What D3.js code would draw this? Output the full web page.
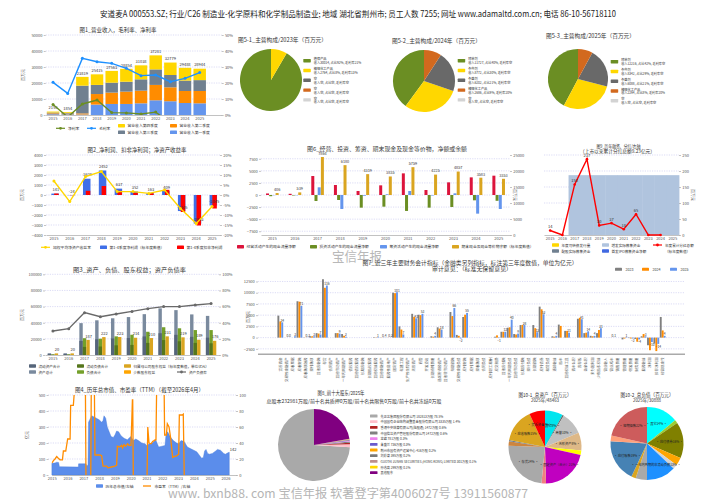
<!DOCTYPE html>
<html><head><meta charset="utf-8">
<script src="https://cdn.jsdelivr.net/npm/d3@7/dist/d3.min.js"></script>
<style>html,body{margin:0;padding:0;background:#fff;overflow:hidden}svg{display:block}</style>
</head><body><svg id="c" width="714" height="500"></svg>
<script>
// ================= DATA =================
const years = ["2015","2016","2017","2018","2019","2020","2021","2022","2023","2024","2025"];
// Chart 1
const revTotal = [2150, 1854, 23819, 25415, 27563, 28854, 31038, 37281, 32779, 29488, 28944];
const revQ1 = [500, 450, 300, 6500, 6900, 6900, 7300, 9200, 8600, 7500, 7300];
const revQ2 = [550, 450, 700, 6600, 7100, 7700, 7900, 9600, 8700, 7500, 7700];
const revQ3 = [500, 450, 17333, 5700, 6200, 6200, 7100, 9700, 7700, 6500, 6800];
const revQ4 = [600, 504, 5486, 6615, 7363, 8054, 8738, 8781, 7779, 7988, 7144];
const grossMargin = [20.4, 13.5, 35.4, 33.3, 32.3, 29.2, 24.6, 25.0, 20.8, 22.9, 26.5];
const netMargin = [6.6, -1.3, 6.9, 9.4, 1.5, 1.3, 0.6, 1.8, -4.9, -9.7, -3.6];
// Chart 2
const netProfit = [141, -24, 1629, 2452, 637, 352, 163, 409, -1605, -2863, -1045];
const dedNetProfit = [150, -20, 420, 900, 420, 220, 180, 520, -1700, -3050, -1350];
const roe = [7.0, -3.3, 9.2, 11.7, 1.7, 1.7, 0.8, 2.5, -6.7, -14.2, -5.8];
// Chart 3
const totalAssets = [2100, 2100, 39500, 43000, 45500, 47000, 50600, 57800, 55600, 50300, 48463];
const currentAssets = [1400, 1400, 17500, 19500, 20500, 21000, 23000, 27000, 25000, 22500, 21500];
const totalLiab = [700, 700, 20800, 20200, 23100, 25100, 28800, 34400, 33100, 30900, 30888];
const currentLiab = [500, 500, 10000, 10500, 12000, 12500, 15000, 18500, 17000, 15000, 14500];
const parentEquity = [2000, 2000, 18700, 22200, 22300, 21400, 21000, 23100, 21900, 18900, 17600];
const debtRatio = [29.8, 32.6, 52.5, 47.5, 50.8, 54.0, 57.4, 60.0, 60.0, 62.0, 63.7];
// Chart 6
const opCF = [320, 250, 3930, 2070, 830, 2000, 4480, 1035, 2620, 3650, 4000];
const invCF = [-250, -100, -1240, -1035, -2620, -2415, -3300, -2620, -2480, -1100, -1200];
const finCF = [-50, -60, 1590, -2900, -150, 150, 830, -100, 345, -3860, -2900];
const endCash = [406, 539, 7864, 6180, 4319, 3835, 5759, 4225, 4857, 3583, 3353];
// Chart 9
const seoFunds = [null, null, 187, 187, 187, 187, 187, 187, 187, 187, 187];
const dividends = [14, 0, 158, 237, 30, 37, 18, 65, 0, 0, null];
// Pies 5
const p51Names = ["植保产品","精细化工产品","空","空","空"];
const p51Rev = [30014, 2764, null, null, null];
const p51Share = [92, 8, null, null, null];
const p51GM = [21, 13, null, null, null];
const p52Names = ["除草剂","杀虫剂","杀菌剂","精细化工产品","空"];
const p52Rev = [11727, 8772, 6202, 2686, null];
const p52Share = [40, 30, 21, 9, null];
const p52GM = [null, null, null, 20, null];
const p53Names = ["除草剂","杀虫剂","杀菌剂","精细化工产品","空"];
const p53Rev = [12216, 8342, 6088, 2294, null];
const p53Share = [42, 29, 21, 8, null];
const p53GM = [null, null, null, 20, null];
const pieColors5 = ["#6B8E23", "#FFD700", "#696969", "#D2691E", "#D3D3D3"];
// Chart 7
const finCats = ["货币资金","交易性金融资产","应收票据","应收账款","应收款项融资","预付款项","其他应收款","存货","合同资产","其他流动资产","一年内到期资产","债权投资","其他债权投资","长期应收款","长期股权投资","其他权益投资","其他金融资产","投资性房地产","固定资产","在建工程","生产性生物资产","无形资产","商誉","开发支出","长期待摊费用","递延所得税资产","其他非流动资产","短期借款","交易性金融负债","应付账款","应付票据","预收款项","合同负债","应付职工薪酬","应交税费","其他应付款","一年内到期负债","其他流动负债","长期应付款","预计负债","长期借款","应付债券","租赁负债","递延收益","股本","其他权益工具","资本公积","库存股","盈余公积","未分配利润","少数股东权益","营业收入","营业成本","销售费用","管理费用","研发费用","财务费用","投资收益","净利润","扣非净利润","经营现金流"];
const fin2023 = [4900,0,0,8100,50,300,1000,13000,null,1000,800,null,null,null,null,100,40,20,10000,2500,null,5300,5100,null,300,2300,null,5700,600,4600,null,null,null,null,200,1300,2200,800,2800,null,2800,6900,null,300,2900,1500,null,4200,1000,400,1000,null,10,null,-400,-100,-300,300,-1700,-1300,4600];
const fin2024 = [3600,0,0,8000,30,300,900,11100,null,1000,400,null,null,null,null,50,40,20,9900,1800,null,4600,5000,null,200,2000,null,4800,400,5100,null,null,null,null,500,1300,2300,700,2800,null,2100,6300,null,200,2600,1500,null,4400,1100,300,1700,null,10,null,-200,-200,-900,800,-2800,-3000,1600];
const fin2025 = [3400,0,300,7100,30,300,700,11600,null,900,200,null,null,null,null,100,40,20,10100,700,null,4300,5300,null,400,1800,null,6600,-200,5500,null,null,null,null,-100,1300,4000,900,2800,null,1200,5200,null,400,null,1100,null,4100,1400,400,2100,null,10,null,100,-200,-400,300,-1000,-1400,400];
// Chart 4
const mcapDates = ["2015-01-05","2015-03-18","2015-04-27","2015-06-10","2015-06-28","2016-09-08","2016-09-14","2017-03-05","2017-03-12","2017-04-20","2017-05-01","2017-07-13","2017-09-28","2018-01-02","2018-03-01","2018-04-02","2018-04-24","2018-06-03","2018-07-09","2018-10-05","2018-11-25","2019-01-02","2019-02-10","2019-03-29","2019-05-23","2019-07-31","2019-10-16","2020-01-02","2020-03-04","2020-04-28","2020-06-29","2020-09-13","2020-11-28","2021-01-05","2021-03-08","2021-05-16","2021-08-01","2021-10-09","2021-12-25","2022-03-04","2022-03-30","2022-05-05","2022-06-29","2022-09-13","2022-11-28","2023-01-15","2023-03-11","2023-05-19","2023-08-04","2023-10-12","2023-12-28","2024-03-07","2024-04-20","2024-06-28","2024-08-07","2024-09-05","2024-10-08","2024-11-14","2024-12-25","2025-03-04","2025-05-19","2025-06-28","2025-09-06","2025-11-22","2025-12-28","2026-03-08","2026-03-30"];
const mcapVals = [73,75,80,78,52,50,70,70,60,60,330,370,360,345,330,340,370,355,300,240,235,250,275,270,245,230,220,240,215,225,215,200,195,185,195,200,220,175,180,185,260,270,240,215,200,195,215,210,175,165,155,145,130,105,110,150,160,135,130,135,150,160,155,135,130,140,142];
const peDates = ["2015-01-05","2015-02-10","2015-03-18","2015-04-27","2015-06-03","2015-07-13","2015-09-06","2015-09-28","2015-11-22","2016-01-05","2016-03-01","2016-03-14","2016-05-15","2016-07-01","2017-02-17","2017-03-04","2017-06-21","2017-07-05","2017-09-12","2017-09-27","2018-01-23","2018-03-01","2018-04-02","2018-06-25","2018-07-27","2018-10-12","2018-12-28","2019-02-10","2019-02-28","2019-04-20","2019-06-06","2019-06-28","2019-07-31","2019-09-06","2019-10-23","2019-11-21","2020-01-08","2020-02-10","2020-02-17","2020-03-03","2021-01-12","2021-01-30","2021-02-28","2021-04-16","2021-05-23","2021-06-25","2021-07-17","2021-08-08","2021-08-26","2022-02-10","2022-02-24","2022-04-05","2022-04-27","2022-06-06","2022-07-13","2022-08-29","2022-09-27","2022-11-28","2023-01-15","2023-01-30","2023-04-09","2023-05-01","2023-05-26","2026-04-15"];
const peVals = [15,18,20,23,21,19,19,30,30,45,45,87,87,120,120,-10,-10,120,120,25,25,24,11,11,9,10,11,12,36,35,37,34,38,36,39,37,37,94,94,-10,-10,60,40,39,42,43,44,44,120,120,50,50,64,60,46,22,23,24,26,75,75,76,-10,-10];
// Chart 8
const holderNames = ["先正达集团股份有限公司","中国国有企业结构调整基金股份有限公司","香港中央结算有限公司(陆股通)","中国信达资产管理股份有限公司","龙峰","朱盛兰","荆州市国有资产运营中心","刘彩菊","GUOTAI JUNAN SECURITIES (HONG KONG) LIMITED","孙志高","其他股东"];
const holderShares = [182813, 3335, 1472, 1472, 781, 736, 416, 395, 301, 299, 55000];
const holderPct = [78.5, 1.4, 0.6, 0.6, 0.3, 0.3, 0.2, 0.2, 0.1, 0.1, null];
const holderColors = ["#A9A9A9","#FFC0CB","#B22222","#808080","#EE82EE","#6A5ACD","#FFA500","#7a7a7a","#BC8F8F","#FFD700","#800080"];
// Chart 10
const assetNames = ["其它","长期股权投资","商誉","无形资产","在建工程","固定资产（合计）","其他应收款","存货","预付款项","应收票据","应收账款","货币资金"];
const assetVals = [8, 0.6, 10, 8, 2, 21, 2, 24, 2, 0.5, 15, 7];
const assetColors = ["#00E5EE","#696969","#C0C0C0","#DEB887","#FFFF00","#C000C0","#F08080","#A9A9A9","#CD853F","#708090","#DAA520","#FF0000"];
const liabNames = ["其它","预收款项","应付债券","租赁负债","长期应付款","一年内到期的非流动负债","其他应付款","应交税费","应付账款","应付职工薪酬","短期借款"];
const liabVals = [14, 1.5, 16, 3.5, 2, 13, 5, 2, 19, 2.5, 21.5];
const liabColors = ["#00FFFF","#9ACD32","#808000","#FFA500","#D3D3D3","#1E90FF","#A9A9A9","#DAA520","#4682B4","#FFA07A","#CD5C5C"];

// ================= HELPERS =================
const svg = d3.select("#c");
const FONT = '"Noto Sans CJK SC","Noto Sans",sans-serif';
svg.attr("font-family", FONT);
const GRID = "#c4c4ee";
function T(g, x, y, s, o) {
  o = o || {};
  const t = g.append("text").attr("x", x).attr("y", y).text(s)
    .attr("font-size", o.fs || 4).attr("fill", o.fill || "#333")
    .attr("text-anchor", o.anchor || "start").attr("dominant-baseline", "central");
  if (o.len) t.attr("textLength", o.len).attr("lengthAdjust", "spacingAndGlyphs");
  if (o.rot) t.attr("transform", `rotate(${o.rot},${x},${y})`);
  return t;
}
function grid(g, y, ticks, x0, x1) {
  g.append("g").selectAll("line").data(ticks).join("line")
    .attr("x1", x0).attr("x2", x1).attr("y1", d => y(d)).attr("y2", d => y(d))
    .attr("stroke", GRID).attr("stroke-width", 0.6).attr("stroke-dasharray", "1.2,1.2");
}
function sty(a, fs) {
  a.attr("font-family", FONT).attr("font-size", fs || 4);
  a.selectAll(".tick line").attr("stroke", "#888").attr("stroke-width", 0.5);
  a.selectAll(".tick text").attr("fill", "#555");
  return a;
}
function yAxisL(g, y, x0, ticks, fmt, fs) {
  const a = g.append("g").attr("transform", `translate(${x0},0)`)
    .call(d3.axisLeft(y).tickValues(ticks).tickFormat(fmt).tickSize(2).tickPadding(1.2));
  a.select(".domain").remove();
  return sty(a, fs);
}
function yAxisR(g, y, x0, ticks, fmt, fs) {
  const a = g.append("g").attr("transform", `translate(${x0},0)`)
    .call(d3.axisRight(y).tickValues(ticks).tickFormat(fmt).tickSize(2).tickPadding(1.2));
  a.select(".domain").remove();
  return sty(a, fs);
}
function xAxisB(g, x, y0, fmt, fs) {
  const a = g.append("g").attr("transform", `translate(0,${y0})`)
    .call(d3.axisBottom(x).tickSize(0).tickSizeOuter(0).tickPadding(2.4).tickFormat(fmt));
  a.select(".domain").attr("stroke", "#999").attr("stroke-width", 0.6);
  return sty(a, fs);
}
function rectLeg(g, x, y, color, label, o) {
  g.append("rect").attr("x", x).attr("y", y - 1.7).attr("width", 7).attr("height", 3.4).attr("rx", 0.6).attr("fill", color);
  T(g, x + 9.5, y, label, Object.assign({fs: 3.8}, o || {}));
}
function lineLeg(g, x, y, color, label, o) {
  g.append("line").attr("x1", x).attr("x2", x + 9).attr("y1", y).attr("y2", y).attr("stroke", color).attr("stroke-width", 1.2);
  g.append("circle").attr("cx", x + 4.5).attr("cy", y).attr("r", 1.4).attr("fill", color);
  T(g, x + 12, y, label, Object.assign({fs: 3.8}, o || {}));
}
let clipN = 0;
function clip(g, x, y, w, h) {
  const id = "cl" + (clipN++);
  svg.append("clipPath").attr("id", id).append("rect").attr("x", x).attr("y", y).attr("width", w).attr("height", h);
  return g.append("g").attr("clip-path", `url(#${id})`);
}
function drawLine(g, vals, xf, y, color, w, r) {
  const pts = vals.map((v, i) => [xf(i), v]).filter(p => p[1] != null);
  g.append("path").attr("d", d3.line().x(p => p[0]).y(p => y(p[1]))(pts))
    .attr("fill", "none").attr("stroke", color).attr("stroke-width", w || 1.4);
  g.append("g").selectAll("circle").data(pts).join("circle")
    .attr("cx", p => p[0]).attr("cy", p => y(p[1])).attr("r", r || 1.5).attr("fill", color);
}
function barsSigned(g, arr, xf, y, w, color) {
  g.append("g").selectAll("rect").data(arr.map((v, i) => ({v, i})).filter(d => d.v != null)).join("rect")
    .attr("x", d => xf(d.i) - w / 2).attr("width", w)
    .attr("y", d => y(Math.max(0, d.v))).attr("height", d => Math.abs(y(d.v) - y(0)))
    .attr("fill", color);
}

// ================= HEADER / FOOTER =================
T(svg, 100, 13, "安道麦A 000553.SZ;  行业/C26 制造业-化学原料和化学制品制造业;  地域 湖北省荆州市;  员工人数 7255;  网址 www.adamaltd.com.cn;  电话 86-10-56718110", {fs: 8.5, fill: "#222", len: 516});
T(svg, 348, 492, "www. bxnb88. com  宝信年报  软著登字第4006027号  13911560877", {fs: 12, fill: "#b5b5b5", anchor: "middle", len: 360});
T(svg, 357, 255, "宝信年报", {fs: 13, fill: "#b8b8b8", anchor: "middle", len: 50});

// ================= CHART 1 =================
(function () {
  const g = svg.append("g");
  const L = 45.7, R = 221.7, TOP = 35, B = 115;
  T(g, 118, 30, "图1_营业收入，毛利率、净利率", {fs: 5.5, anchor: "middle", len: 77});
  const x = d3.scaleBand().domain(years.concat(["pad"])).range([L, R]).paddingInner(0.15).paddingOuter(0.075);
  const y = d3.scaleLinear().domain([0, 50000]).range([B, TOP]);
  const yr = d3.scaleLinear().domain([0, 50]).range([B, TOP]);
  const tk = d3.range(0, 50001, 10000);
  grid(g, y, tk.slice(1), L, R);
  const rows = years.map((yy, i) => ({year: yy, q1: revQ1[i], q2: revQ2[i], q3: revQ3[i], q4: revQ4[i]}));
  const cols = {q1: "#6495ED", q2: "#FF8C00", q3: "#708090", q4: "#FFD700"};
  d3.stack().keys(["q1", "q2", "q3", "q4"])(rows).forEach(s => {
    g.append("g").selectAll("rect").data(s).join("rect")
      .attr("x", d => x(d.data.year)).attr("width", x.bandwidth())
      .attr("y", d => y(d[1])).attr("height", d => y(d[0]) - y(d[1])).attr("fill", cols[s.key]);
  });
  yAxisL(g, y, L, tk, d3.format("d"), 4);
  yAxisR(g, yr, R, d3.range(0, 51, 10), d => d + "%", 4);
  xAxisB(g, x, B, d => d === "pad" ? "" : d, 4);
  const cx = i => x(years[i]) + x.bandwidth() / 2;
  g.append("g").selectAll("text").data(revTotal).join("text")
    .attr("x", (d, i) => cx(i)).attr("y", d => y(d) - 2.3).attr("text-anchor", "middle")
    .attr("font-size", 4).attr("fill", "#333").text(d => d);
  const cg = clip(g, L, TOP - 3, R - L, B - TOP + 3);
  drawLine(cg, grossMargin, cx, yr, "#1E90FF", 1.4, 1.5);
  drawLine(cg, netMargin, cx, yr, "#6B8E23", 1.4, 1.5);
  T(g, 23, 75, "百万元", {fs: 4, anchor: "middle", rot: -90, fill: "#555"});
  lineLeg(g, 56, 128.3, "#6B8E23", "净利率");
  lineLeg(g, 87, 128.3, "#1E90FF", "毛利率");
  rectLeg(g, 118, 125.7, "#FFD700", "营业收入第四季度");
  rectLeg(g, 170, 125.7, "#FF8C00", "营业收入第二季度");
  rectLeg(g, 118, 132.3, "#708090", "营业收入第三季度");
  rectLeg(g, 170, 132.3, "#6495ED", "营业收入第一季度");
})();

// ================= PIES 5 =================
function pie5(cx, cy, r, tx, ty, title, names, rev, share, gm, lx, ly0, lstep) {
  const g = svg.append("g");
  T(g, tx, ty, title, {fs: 5.5, len: 89});
  const vals = rev.map(v => v == null ? 0 : v);
  const arcs = d3.pie().sort(null).startAngle(0).endAngle(-2 * Math.PI)(vals);
  g.append("g").attr("transform", `translate(${cx},${cy})`).selectAll("path").data(arcs).join("path")
    .attr("d", d3.arc().innerRadius(0).outerRadius(r)).attr("fill", (d, i) => pieColors5[i]);
  names.forEach((n, i) => {
    const yy = ly0 + i * lstep;
    g.append("rect").attr("x", lx).attr("y", yy - 1.7).attr("width", 7.5).attr("height", 3.4).attr("rx", 0.6).attr("fill", pieColors5[i]);
    T(g, lx + 10.5, yy - 1.9, n, {fs: 3.2});
    const det = `收入${rev[i] == null ? "空" : rev[i]}, 占比${share[i] == null ? "空" : share[i] + "%"}, 毛利率${gm[i] == null ? "空" : gm[i] + "%"}`;
    T(g, lx + 10.5, yy + 1.9, det, {fs: 3.2});
  });
}
pie5(271, 80, 31, 238, 40, "图5-1_主营构成/2023年（百万元）", p51Names, p51Rev, p51Share, p51GM, 303.3, 60.7, 9.8);
pie5(424, 81, 31, 392, 41, "图5-2_主营构成/2024年（百万元）", p52Names, p52Rev, p52Share, p52GM, 457.7, 60.7, 9.8);
pie5(578, 79, 30, 546, 35.7, "图5-3_主营构成/2025年（百万元）", p53Names, p53Rev, p53Share, p53GM, 610.7, 61.7, 9.75);

// ================= CHART 2 =================
(function () {
  const g = svg.append("g");
  const L = 46, R = 220, TOP = 155, B = 235;
  T(g, 137, 149.5, "图2_净利润、扣非净利润；净资产收益率", {fs: 5.5, anchor: "middle", len: 99});
  const x = d3.scaleBand().domain(years).range([L, R]);
  const y = d3.scaleLinear().domain([-4000, 4000]).range([B, TOP]);
  const yr = d3.scaleLinear().domain([-20, 20]).range([B, TOP]);
  const tk = d3.range(-4000, 4001, 1000);
  grid(g, y, tk.slice(1), L, R);
  const cx = i => x(years[i]) + x.bandwidth() / 2;
  barsSigned(g, netProfit, i => cx(i) + 1.2, y, 7.5, "#3F6FE8");
  barsSigned(g, dedNetProfit, i => cx(i) + 2.5, y, 4.5, "#FF0000");
  yAxisL(g, y, L, tk, d3.format("d"), 4);
  yAxisR(g, yr, R, d3.range(-20, 21, 5), d => d + "%", 4);
  xAxisB(g, x, B, d => d, 4);
  g.append("g").selectAll("text").data(netProfit).join("text")
    .attr("x", (d, i) => cx(i) + 2).attr("y", d => y(d) - 2.3).attr("text-anchor", "middle")
    .attr("font-size", 4).attr("fill", "#333").text(d => d);
  drawLine(g, roe, cx, yr, "#FFD700", 1.4, 1.5);
  T(g, 22, 195, "百万元", {fs: 4, anchor: "middle", rot: -90, fill: "#555"});
  lineLeg(g, 41, 247.3, "#FFD700", "加权平均净资产收益率");
  rectLeg(g, 100, 247.3, "#3F6FE8", "第1-4季度净利润（标年度数值）");
  rectLeg(g, 177, 247.3, "#FF0000", "第1-4季度扣非净利润");
})();

// ================= CHART 6 =================
(function () {
  const g = svg.append("g");
  const L = 261, R = 510, TOP = 155, B = 235;
  T(g, 387, 149.2, "图6_经营、投资、筹资、期末现金及现金等价物，净额或余额", {fs: 5.3, anchor: "middle", len: 160});
  const x = d3.scaleBand().domain(years).range([L, R]);
  const y = d3.scaleLinear().domain([-8280, 8280]).range([B, TOP]);
  const yr = d3.scaleLinear().domain([0, 25000]).range([B, TOP]);
  const tk = d3.range(-7500, 7501, 2500);
  grid(g, y, tk, L, R);
  const cx = i => x(years[i]) + x.bandwidth() / 2;
  const ser = [[opCF, "#DC143C"], [invCF, "#6B8E23"], [finCF, "#6495ED"], [endCash, "#DAA520"]];
  const offs = [-4.8, -1.6, 1.6, 4.8];
  ser.forEach((s, k) => barsSigned(g, s[0], i => cx(i) + offs[k], y, 3, s[1]));
  g.append("g").selectAll("text").data(endCash).join("text")
    .attr("x", (d, i) => cx(i) + 4.8).attr("y", d => y(d) - 2.1).attr("text-anchor", "middle")
    .attr("font-size", 3.8).attr("fill", "#333").text(d => d);
  yAxisL(g, y, L, tk, d3.format("d"), 4);
  yAxisR(g, yr, R, d3.range(0, 25001, 5000), d3.format("d"), 4);
  xAxisB(g, x, B, d => d, 4);
  T(g, 515, 195, "百万元", {fs: 4, anchor: "middle", rot: 90, fill: "#555"});
  rectLeg(g, 237, 246.7, "#DC143C", "经营活动产生的现金流量净额");
  rectLeg(g, 310, 246.7, "#6B8E23", "投资活动产生的现金流量净额");
  rectLeg(g, 380, 246.7, "#6495ED", "筹资活动产生的现金流量净额");
  rectLeg(g, 452, 246.7, "#DAA520", "期末现金及现金等价物余额（标年度数值）");
})();

// ================= CHART 9 =================
(function () {
  const g = svg.append("g");
  const L = 544, R = 679, TOP = 155, B = 235;
  T(g, 618.5, 145, "图9_历年融资、分红/右轴", {fs: 5, anchor: "middle", len: 44});
  T(g, 617.5, 150.5, "（上市以来累计分红总额9.23亿元）", {fs: 5, anchor: "middle", len: 75});
  const x = d3.scaleBand().domain(years).range([L, R]);
  const yr = d3.scaleLinear().domain([0, 250]).range([B, TOP]);
  grid(g, yr, [50, 100, 150, 200, 250], L, R);
  g.append("g").selectAll("rect").data(seoFunds.map((v, i) => ({v, i})).filter(d => d.v != null)).join("rect")
    .attr("x", d => x(years[d.i])).attr("width", x.bandwidth() + 0.4)
    .attr("y", d => yr(d.v)).attr("height", d => yr(0) - yr(d.v)).attr("fill", "#B0C4DE");
  yAxisR(g, yr, R, d3.range(0, 251, 50), d3.format("d"), 4);
  xAxisB(g, x, B, d => d, 4);
  const cx = i => x(years[i]) + x.bandwidth() / 2;
  drawLine(g, dividends, cx, yr, "#FF0000", 1.4, 1.3);
  g.append("g").selectAll("text").data(dividends.map((v, i) => ({v, i})).filter(d => d.v)).join("text")
    .attr("x", d => cx(d.i)).attr("y", d => yr(d.v) - 2.5).attr("text-anchor", "middle")
    .attr("font-size", 4).attr("fill", "#333").text(d => d.v);
  T(g, 693, 195, "百万元", {fs: 4, anchor: "middle", rot: 90, fill: "#555"});
  rectLeg(g, 552, 245, "#FFD700", "年度可转债发行量", {fs: 3.6});
  rectLeg(g, 602, 245, "#B0C4DE", "增发实际募集资金", {fs: 3.6});
  rectLeg(g, 552, 251, "#708090", "配股实际募集资金", {fs: 3.6});
  rectLeg(g, 602, 251, "#4169E1", "首发IPO募集资金净额", {fs: 3.6});
  lineLeg(g, 653, 245, "#FF0000", "年度累计分红总额", {fs: 3.6});
  T(g, 665, 251, "（标年度数值）", {fs: 3.6});
})();

// ================= CHART 3 =================
(function () {
  const g = svg.append("g");
  const L = 45, R = 219, TOP = 274.3, B = 355;
  T(g, 129.5, 270, "图3_资产、负债、股东权益；资产负债率", {fs: 5.5, anchor: "middle", len: 113});
  const x = d3.scaleBand().domain(years).range([L, R]);
  const y = d3.scaleLinear().domain([0, 100000]).range([B, TOP]);
  const yr = d3.scaleLinear().domain([0, 100]).range([B, TOP]);
  const tk = d3.range(0, 100001, 20000);
  grid(g, y, tk.slice(1), L, R);
  const cx = i => x(years[i]) + x.bandwidth() / 2;
  barsSigned(g, totalAssets, i => cx(i) - 3.5, y, 3.4, "#7A8A9E");
  barsSigned(g, currentAssets, i => cx(i) - 3.5, y, 3.4, "#56657A");
  barsSigned(g, totalLiab, i => cx(i), y, 3.4, "#74A02A");
  barsSigned(g, currentLiab, i => cx(i), y, 3.4, "#55761C");
  barsSigned(g, parentEquity, i => cx(i) + 3.5, y, 3.4, "#DAA520");
  yAxisL(g, y, L, tk, d3.format("d"), 4);
  yAxisR(g, yr, R, d3.range(0, 101, 20), d => d + "%", 4);
  xAxisB(g, x, B, d => d, 4);
  g.append("g").selectAll("text").data(parentEquity).join("text")
    .attr("x", (d, i) => cx(i) + 4).attr("y", d => y(d) - 2.3).attr("text-anchor", "middle")
    .attr("font-size", 4).attr("fill", "#333").text(d => d3.format(".0f")(d / 100));
  drawLine(g, debtRatio, cx, yr, "#696969", 1.4, 1.5);
  T(g, 22, 315, "百万元", {fs: 4, anchor: "middle", rot: -90, fill: "#555"});
  rectLeg(g, 29, 366, "#56657A", "流动资产合计", {fs: 3.6});
  rectLeg(g, 77, 366, "#55761C", "流动负债合计", {fs: 3.6});
  rectLeg(g, 124, 366, "#DAA520", "归属母公司股东权益（标年度数值，单位亿元）", {fs: 3.6});
  rectLeg(g, 29, 372, "#7A8A9E", "资产总计", {fs: 3.6});
  rectLeg(g, 77, 372, "#74A02A", "负债合计", {fs: 3.6});
  rectLeg(g, 124, 372, "#FFA500", "少数股东权益", {fs: 3.6});
  lineLeg(g, 177, 372, "#696969", "资产负债率", {fs: 3.6});
})();

// ================= CHART 7 =================
(function () {
  const g = svg.append("g");
  const L = 258, R = 685;
  T(g, 470, 263, "图7_近三年主要财务会计指标（金融类另列指标，标注第三年度数值，单位为亿元）", {fs: 5.5, anchor: "middle", len: 215});
  T(g, 472, 269, "审计意见：（标准无保留意见）", {fs: 5.5, anchor: "middle", len: 80});
  const x = d3.scaleBand().domain(finCats).range([L, R]).paddingInner(0).paddingOuter(3);
  const y = d3.scaleLinear().domain([-3715, 13810]).range([354.3, 275.6]);
  const tk = d3.range(-2500, 12501, 2500);
  grid(g, y, tk, L, R);
  const cx = i => x(finCats[i]) + x.bandwidth() / 2;
  [[fin2023, "#808080", -1.95], [fin2024, "#FF8C00", 0], [fin2025, "#6495ED", 1.95]].forEach(s =>
    barsSigned(g, s[0], i => cx(i) + s[2], y, 1.9, s[1]));
  const fmtYi = v => Math.abs(v / 100) >= 1 ? d3.format(".0f")(v / 100) : d3.format(".1f")(v / 100);
  g.append("g").selectAll("text").data(fin2025.map((v, i) => ({v, i})).filter(d => d.v != null)).join("text")
    .attr("x", d => cx(d.i) + 2).attr("y", d => d.v >= 0 ? y(d.v) - 2 : y(d.v) + 2.2).attr("text-anchor", "middle")
    .attr("dominant-baseline", "central").attr("font-size", 3.3).attr("fill", "#333").text(d => fmtYi(d.v));
  yAxisL(g, y, L, tk, d3.format("d"), 4);
  g.append("line").attr("x1", L).attr("x2", R).attr("y1", 354.3).attr("y2", 354.3).attr("stroke", "#aaa").attr("stroke-width", 1.4);
  g.append("g").selectAll("text").data(finCats).join("text")
    .attr("transform", d => `translate(${x(d) + x.bandwidth() / 2 + 1.2},357.5) rotate(-90)`)
    .attr("text-anchor", "end").attr("font-size", 3.5).attr("fill", "#555").text(d => d);
  T(g, 248, 317, "百万元", {fs: 4, anchor: "middle", rot: -90, fill: "#555"});
  [["2023", "#808080", 615], ["2024", "#FF8C00", 642], ["2025", "#6495ED", 670]].forEach(l => {
    g.append("rect").attr("x", l[2]).attr("y", 267.8).attr("width", 7).attr("height", 3).attr("rx", 0.6).attr("fill", l[1]);
    T(g, l[2] + 10.5, 269.3, l[0], {fs: 3.6});
  });
})();

// ================= CHART 4 =================
(function () {
  const g = svg.append("g");
  const L = 51.7, R = 236, TOP = 395, B = 475;
  T(g, 139.5, 390, "图4_历年总市值、市盈率（TTM）（截至2026年4月）", {fs: 5.5, anchor: "middle", len: 129});
  const parse = d3.timeParse("%Y-%m-%d");
  const x = d3.scaleTime().domain([new Date(2015, 0, 1), new Date(2026, 8, 1)]).range([L, R]);
  const y = d3.scaleLinear().domain([0, 500]).range([B, TOP]);
  const yr = d3.scaleLinear().domain([0, 100]).range([B, TOP]);
  grid(g, y, [100, 200, 300, 400, 500], 48, R);
  const md = mcapDates.map((d, i) => ({t: parse(d), v: mcapVals[i]}));
  g.append("path").attr("d", d3.area().x(d => x(d.t)).y0(y(0)).y1(d => y(d.v))(md))
    .attr("fill", "#5B8DEB").attr("stroke", "#4478d8").attr("stroke-width", 0.4);
  const cg = clip(g, L, TOP, R - L, B - TOP);
  const pd = peDates.map((d, i) => ({t: parse(d), v: peVals[i]}));
  cg.append("path").attr("d", d3.line().x(d => x(d.t)).y(d => yr(d.v))(pd))
    .attr("fill", "none").attr("stroke", "#FF8C00").attr("stroke-width", 1.3);
  yAxisL(g, y, 48.5, [0, 100, 200, 300, 400, 500], d3.format("d"), 4);
  yAxisR(g, yr, R, [0, 20, 40, 60, 80, 100], d3.format("d"), 4);
  const xa = g.append("g").attr("transform", `translate(0,${B})`)
    .call(d3.axisBottom(x).ticks(d3.timeYear.every(1)).tickFormat(d3.timeFormat("%Y")).tickSize(0).tickPadding(2.6).tickSizeOuter(0));
  xa.select(".domain").attr("stroke", "#999").attr("stroke-width", 0.6);
  sty(xa, 4);
  const last = md[md.length - 1];
  T(g, x(last.t) + 0.5, y(last.v) - 3, String(last.v), {fs: 4});
  T(g, 27, 435, "亿元", {fs: 4, anchor: "middle", rot: -90, fill: "#555"});
  rectLeg(g, 96, 486, "#5B8DEB", "历年总市值/左轴", {fs: 3.8});
  g.append("line").attr("x1", 143).attr("x2", 151).attr("y1", 486).attr("y2", 486).attr("stroke", "#FF8C00").attr("stroke-width", 1.3);
  T(g, 154.5, 486, "市盈率（TTM）/右轴", {fs: 3.8});
})();

// ================= CHART 8 =================
(function () {
  const g = svg.append("g");
  T(g, 341, 392, "图8_前十大股东/2025年", {fs: 5.2, anchor: "middle", len: 47});
  T(g, 354, 400, "总股本232981万股/前十名共质押0万股/前十名共限售0万股/前十名共冻结0万股", {fs: 5, anchor: "middle", len: 175});
  const arcs = d3.pie().sort(null).startAngle(0).endAngle(-2 * Math.PI)(holderShares);
  g.append("g").attr("transform", "translate(314,445)").selectAll("path").data(arcs).join("path")
    .attr("d", d3.arc().innerRadius(0).outerRadius(36)).attr("fill", (d, i) => holderColors[i]);
  holderNames.forEach((n, i) => {
    const yy = 416 + i * 5.67;
    g.append("rect").attr("x", 370).attr("y", yy - 1.4).attr("width", 7.5).attr("height", 2.8).attr("rx", 0.5).attr("fill", holderColors[i]);
    const s = holderPct[i] == null ? n : `${n} ${holderShares[i]}万股 ${holderPct[i]}%`;
    T(g, 380.5, yy, s, {fs: 3.2});
  });
})();

// ================= CHART 10 =================
function pie10(cx, cy, r, title, sub, names, vals, colors) {
  const g = svg.append("g");
  T(g, cx, 394.3, title, {fs: 5.2, anchor: "middle", len: 53});
  T(g, cx, 399.5, sub, {fs: 4.6, anchor: "middle", len: 28});
  const arcs = d3.pie().sort(null).startAngle(0).endAngle(2 * Math.PI)(vals);
  const gg = g.append("g").attr("transform", `translate(${cx},${cy})`);
  gg.selectAll("path").data(arcs).join("path")
    .attr("d", d3.arc().innerRadius(0).outerRadius(r)).attr("fill", (d, i) => colors[i]);
  const la = d3.arc().innerRadius(r * 0.62).outerRadius(r * 0.62);
  const tot = d3.sum(vals);
  gg.selectAll("text").data(arcs.filter(d => d.value / tot >= 0.06)).join("text")
    .attr("x", d => la.centroid(d)[0]).attr("y", d => la.centroid(d)[1])
    .attr("text-anchor", "middle").attr("dominant-baseline", "central")
    .attr("font-size", 3.2).attr("fill", "#222")
    .text(d => `· ${names[d.index]}${Math.round(d.value / tot * 100)}% ·`);
}
pie10(545, 447, 36.5, "图10-1_总资产（百万元）", "2025年/48463", assetNames, assetVals, assetColors);
pie10(647, 443.5, 36.5, "图10-2_总负债（百万元）", "2025年/30888", liabNames, liabVals, liabColors);
</script></body></html>
